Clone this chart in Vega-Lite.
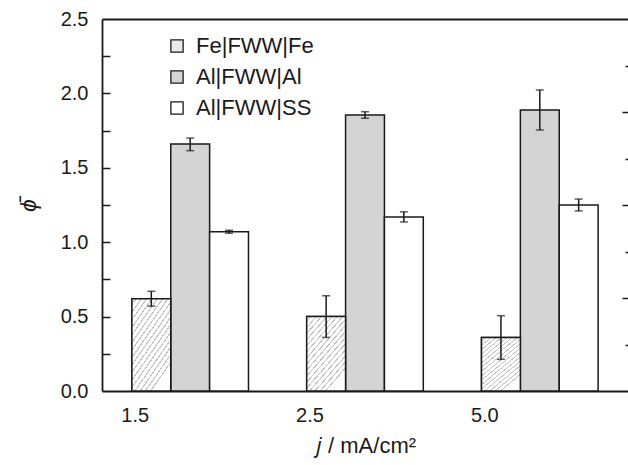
{
  "$schema": "https://vega.github.io/schema/vega-lite/v6.json",
  "width": 526,
  "height": 372,
  "autosize": {"type": "none"},
  "padding": {"left": 102, "top": 19, "right": 0, "bottom": 74},
  "background": "white",
  "config": {
    "font": "Liberation Sans",
    "view": {"stroke": null},
    "axis": {"domainColor": "#1a1a1a", "domainWidth": 1.8, "tickColor": "#1a1a1a", "tickWidth": 1.5, "labelColor": "#1a1a1a", "titleColor": "#1a1a1a", "grid": false}
  },
  "data": {
    "values": [
      {"j": "1.5", "series": "Fe|FWW|Fe", "v": 0.62, "lo": 0.57, "hi": 0.67},
      {"j": "1.5", "series": "Al|FWW|Al", "v": 1.66, "lo": 1.615, "hi": 1.70},
      {"j": "1.5", "series": "Al|FWW|SS", "v": 1.07, "lo": 1.06, "hi": 1.08},
      {"j": "2.5", "series": "Fe|FWW|Fe", "v": 0.50, "lo": 0.36, "hi": 0.64},
      {"j": "2.5", "series": "Al|FWW|Al", "v": 1.855, "lo": 1.833, "hi": 1.877},
      {"j": "2.5", "series": "Al|FWW|SS", "v": 1.17, "lo": 1.136, "hi": 1.204},
      {"j": "5.0", "series": "Fe|FWW|Fe", "v": 0.36, "lo": 0.213, "hi": 0.506},
      {"j": "5.0", "series": "Al|FWW|Al", "v": 1.888, "lo": 1.754, "hi": 2.023},
      {"j": "5.0", "series": "Al|FWW|SS", "v": 1.25, "lo": 1.21, "hi": 1.29}
    ]
  },
  "resolve": {"axis": {"x": "independent", "y": "independent"}},
  "layer": [
    {
      "mark": {"type": "bar", "stroke": "#1a1a1a", "strokeWidth": 1.5},
      "encoding": {
        "x": {"field": "j", "type": "nominal", "sort": ["1.5", "2.5", "5.0"],
          "scale": {"paddingInner": 0.333, "paddingOuter": 0.171},
          "axis": {"orient": "bottom", "ticks": false, "labelAngle": 0, "labelFontSize": 20, "labelPadding": 14, "labelOffset": -55,
            "title": "𝑗 / mA/cm²", "titleFontSize": 22, "titleFontWeight": "normal", "titlePadding": 10}},
        "xOffset": {"field": "series", "type": "nominal", "sort": ["Fe|FWW|Fe", "Al|FWW|Al", "Al|FWW|SS"], "scale": {"paddingInner": 0, "paddingOuter": 0}},
        "y": {"field": "v", "type": "quantitative", "scale": {"domain": [0, 2.5], "nice": false},
          "axis": {"orient": "left", "values": [0, 0.5, 1, 1.5, 2, 2.5], "format": ".1f",
            "ticks": false, "labelFontSize": 20, "labelPadding": 14,
            "title": "ϕ̄", "titleFontSize": 23, "titleFontStyle": "italic", "titleFontWeight": "normal", "titlePadding": 20}},
        "color": {"field": "series", "type": "nominal", "sort": ["Fe|FWW|Fe", "Al|FWW|Al", "Al|FWW|SS"],
          "scale": {"domain": ["Fe|FWW|Fe", "Al|FWW|Al", "Al|FWW|SS"], "range": ["#e9e9e9", "#d4d4d4", "#ffffff"]},
          "legend": {"orient": "none", "legendX": 64, "legendY": 16, "title": null, "symbolType": "square", "symbolSize": 150,
            "symbolStrokeColor": "#1a1a1a", "symbolStrokeWidth": 1.3, "symbolOpacity": 1, "labelFontSize": 22, "labelColor": "#1a1a1a",
            "rowPadding": 9, "labelOffset": 8}}
      }
    },
    {
      "transform": [{"filter": "datum.series == 'Fe|FWW|Fe'"}],
      "mark": {"type": "bar", "stroke": "#1a1a1a", "strokeWidth": 1.5,
        "fill": {"gradient": "linear", "x1": 0, "y1": 0, "x2": 0.6, "y2": 1, "stops": [
          {"offset": 0, "color": "#ffffff"}, {"offset": 0.04, "color": "#ffffff"}, {"offset": 0.04, "color": "#c2c2c2"}, {"offset": 0.055, "color": "#c2c2c2"}, {"offset": 0.055, "color": "#ffffff"},
          {"offset": 0.1, "color": "#ffffff"}, {"offset": 0.1, "color": "#c2c2c2"}, {"offset": 0.115, "color": "#c2c2c2"}, {"offset": 0.115, "color": "#ffffff"},
          {"offset": 0.16, "color": "#ffffff"}, {"offset": 0.16, "color": "#c2c2c2"}, {"offset": 0.175, "color": "#c2c2c2"}, {"offset": 0.175, "color": "#ffffff"},
          {"offset": 0.22, "color": "#ffffff"}, {"offset": 0.22, "color": "#c2c2c2"}, {"offset": 0.235, "color": "#c2c2c2"}, {"offset": 0.235, "color": "#ffffff"},
          {"offset": 0.28, "color": "#ffffff"}, {"offset": 0.28, "color": "#c2c2c2"}, {"offset": 0.295, "color": "#c2c2c2"}, {"offset": 0.295, "color": "#ffffff"},
          {"offset": 0.34, "color": "#ffffff"}, {"offset": 0.34, "color": "#c2c2c2"}, {"offset": 0.355, "color": "#c2c2c2"}, {"offset": 0.355, "color": "#ffffff"},
          {"offset": 0.4, "color": "#ffffff"}, {"offset": 0.4, "color": "#c2c2c2"}, {"offset": 0.415, "color": "#c2c2c2"}, {"offset": 0.415, "color": "#ffffff"},
          {"offset": 0.46, "color": "#ffffff"}, {"offset": 0.46, "color": "#c2c2c2"}, {"offset": 0.475, "color": "#c2c2c2"}, {"offset": 0.475, "color": "#ffffff"},
          {"offset": 0.52, "color": "#ffffff"}, {"offset": 0.52, "color": "#c2c2c2"}, {"offset": 0.535, "color": "#c2c2c2"}, {"offset": 0.535, "color": "#ffffff"},
          {"offset": 0.58, "color": "#ffffff"}, {"offset": 0.58, "color": "#c2c2c2"}, {"offset": 0.595, "color": "#c2c2c2"}, {"offset": 0.595, "color": "#ffffff"},
          {"offset": 0.64, "color": "#ffffff"}, {"offset": 0.64, "color": "#c2c2c2"}, {"offset": 0.655, "color": "#c2c2c2"}, {"offset": 0.655, "color": "#ffffff"},
          {"offset": 0.7, "color": "#ffffff"}, {"offset": 0.7, "color": "#c2c2c2"}, {"offset": 0.715, "color": "#c2c2c2"}, {"offset": 0.715, "color": "#ffffff"},
          {"offset": 0.76, "color": "#ffffff"}, {"offset": 0.76, "color": "#c2c2c2"}, {"offset": 0.775, "color": "#c2c2c2"}, {"offset": 0.775, "color": "#ffffff"},
          {"offset": 0.82, "color": "#ffffff"}, {"offset": 0.82, "color": "#c2c2c2"}, {"offset": 0.835, "color": "#c2c2c2"}, {"offset": 0.835, "color": "#ffffff"},
          {"offset": 0.88, "color": "#ffffff"}, {"offset": 0.88, "color": "#c2c2c2"}, {"offset": 0.895, "color": "#c2c2c2"}, {"offset": 0.895, "color": "#ffffff"},
          {"offset": 0.94, "color": "#ffffff"}, {"offset": 0.94, "color": "#c2c2c2"}, {"offset": 0.955, "color": "#c2c2c2"}, {"offset": 0.955, "color": "#ffffff"},
          {"offset": 1, "color": "#ffffff"}
        ]}},
      "encoding": {
        "x": {"field": "j", "type": "nominal", "sort": ["1.5", "2.5", "5.0"], "axis": null},
        "xOffset": {"field": "series", "type": "nominal", "sort": ["Fe|FWW|Fe", "Al|FWW|Al", "Al|FWW|SS"]},
        "y": {"field": "v", "type": "quantitative", "scale": {"domain": [0, 2.5], "nice": false},
          "axis": {"orient": "left", "values": [0.25, 0.5, 0.75, 1, 1.25, 1.5, 1.75, 2, 2.25], "labels": false, "domain": false, "title": null, "tickSize": -8}}
      }
    },
    {
      "mark": {"type": "rule", "stroke": "#1a1a1a", "strokeWidth": 1.5},
      "encoding": {
        "x": {"field": "j", "type": "nominal", "sort": ["1.5", "2.5", "5.0"],
          "axis": {"orient": "top", "labels": false, "ticks": false, "domain": true, "title": null}},
        "xOffset": {"field": "series", "type": "nominal", "sort": ["Fe|FWW|Fe", "Al|FWW|Al", "Al|FWW|SS"]},
        "y": {"field": "lo", "type": "quantitative", "scale": {"domain": [0, 2.5], "nice": false},
          "axis": {"orient": "right", "values": [0.3125, 0.625, 0.9375, 1.25, 1.5625, 1.875, 2.1875], "labels": false, "domain": false, "title": null,
            "tickSize": {"condition": {"test": "abs(datum.value / 0.625 - round(datum.value / 0.625)) < 0.01", "value": -6}, "value": -3}}},
        "y2": {"field": "hi"}
      }
    },
    {
      "mark": {"type": "tick", "color": "#1a1a1a", "size": 8, "thickness": 1.5},
      "encoding": {
        "x": {"field": "j", "type": "nominal", "sort": ["1.5", "2.5", "5.0"], "axis": null},
        "xOffset": {"field": "series", "type": "nominal", "sort": ["Fe|FWW|Fe", "Al|FWW|Al", "Al|FWW|SS"]},
        "y": {"field": "lo", "type": "quantitative", "scale": {"domain": [0, 2.5], "nice": false}, "axis": null}
      }
    },
    {
      "mark": {"type": "tick", "color": "#1a1a1a", "size": 8, "thickness": 1.5},
      "encoding": {
        "x": {"field": "j", "type": "nominal", "sort": ["1.5", "2.5", "5.0"], "axis": null},
        "xOffset": {"field": "series", "type": "nominal", "sort": ["Fe|FWW|Fe", "Al|FWW|Al", "Al|FWW|SS"]},
        "y": {"field": "hi", "type": "quantitative", "scale": {"domain": [0, 2.5], "nice": false}, "axis": null}
      }
    }
  ]
}
